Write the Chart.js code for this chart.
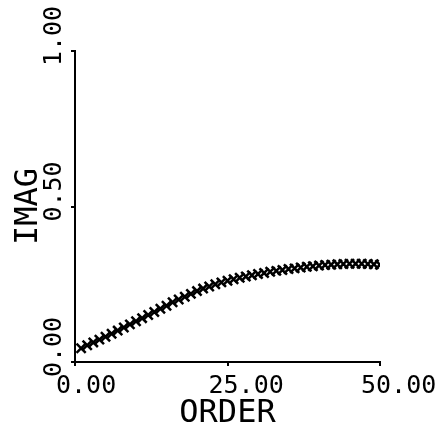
<!DOCTYPE html>
<html>
<head>
<meta charset="utf-8">
<style>
  html, body { margin: 0; padding: 0; background: #fff; }
  #wrap { width: 442px; height: 434px; }
</style>
<script src="https://cdn.jsdelivr.net/npm/chart.js@4/dist/chart.umd.min.js"></script>
</head>
<body>
<div id="wrap"><canvas id="imag-order-graph" width="442" height="434"></canvas></div>
<script>
// order number along the x axis
var orders = [1, 2, 3, 4, 5, 6, 7, 8, 9, 10,
  11, 12, 13, 14, 15, 16, 17, 18, 19, 20,
  21, 22, 23, 24, 25, 26, 27, 28, 29, 30,
  31, 32, 33, 34, 35, 36, 37, 38, 39, 40,
  41, 42, 43, 44, 45, 46, 47, 48, 49, 50];
// IMAG value
var imag = [0.044, 0.054, 0.063, 0.072, 0.081, 0.091, 0.101, 0.111, 0.121, 0.131,
  0.141, 0.151, 0.161, 0.171, 0.181, 0.192, 0.201, 0.210, 0.219, 0.228,
  0.236, 0.243, 0.250, 0.256, 0.261, 0.266, 0.271, 0.275, 0.279, 0.283,
  0.286, 0.290, 0.293, 0.296, 0.299, 0.301, 0.304, 0.306, 0.308, 0.310,
  0.312, 0.313, 0.314, 0.315, 0.316, 0.316, 0.316, 0.315, 0.314, 0.313];
var xTicks = [0, 25, 50];
var yTicks = [0, 0.5, 1];

var points = orders.map(function (o, i) { return { x: o, y: imag[i] }; });
var mono = "'DejaVu Sans Mono', 'Liberation Mono', monospace";

ctx = document.getElementById('imag-order-graph').getContext('2d');
var chart = new Chart(ctx, {
  type: 'scatter',
  data: {
    datasets: [{
      label: 'IMAG',
      data: points,
      showLine: false,
      pointStyle: 'crossRot',
      pointRadius: 6.5,
      pointBorderWidth: 2.5,
      borderColor: '#000',
      backgroundColor: '#000'
    }]
  },
  options: {
    responsive: false,
    animation: false,
    layout: { padding: { top: 51, right: 62, left: 0, bottom: 0 } },
    plugins: { legend: { display: false }, tooltip: { enabled: false } },
    scales: {
      x: {
        type: 'linear',
        min: 0, max: 50,
        afterBuildTicks: function (s) { s.ticks = xTicks.map(function (v) { return { value: v }; }); },
        afterFit: function (s) { s.height = 72; s.paddingLeft = 0; s.paddingRight = 0; },
        grid: { drawOnChartArea: false, drawTicks: true, tickLength: 4, color: '#000', lineWidth: 2 },
        border: { color: '#000', width: 2 },
        ticks: {
          autoSkip: false, maxRotation: 0, align: 'start', labelOffset: -19, padding: 5,
          color: '#000', font: { family: mono, size: 25 },
          callback: function (v) { return v.toFixed(2); }
        },
        title: { display: true, text: 'ORDER', color: '#000', font: { family: mono, size: 32 }, padding: { top: 0, bottom: 1 } }
      },
      y: {
        type: 'linear',
        min: 0, max: 1,
        afterBuildTicks: function (s) { s.ticks = yTicks.map(function (v) { return { value: v }; }); },
        afterFit: function (s) { s.width = 75; s.paddingTop = 0; s.paddingBottom = 0; },
        grid: { drawOnChartArea: false, drawTicks: true, tickLength: 4, color: '#000', lineWidth: 2 },
        border: { color: '#000', width: 2 },
        ticks: {
          autoSkip: false, minRotation: 90, maxRotation: 90, crossAlign: 'center', align: 'start',
          labelOffset: -15, padding: -1,
          color: '#000', font: { family: mono, size: 25 },
          callback: function (v) { return v.toFixed(2); }
        },
        title: { display: true, text: 'IMAG', color: '#000', font: { family: mono, size: 32 }, padding: { top: 9, bottom: 0 } }
      }
    }
  }
});
</script>
</body>
</html>
